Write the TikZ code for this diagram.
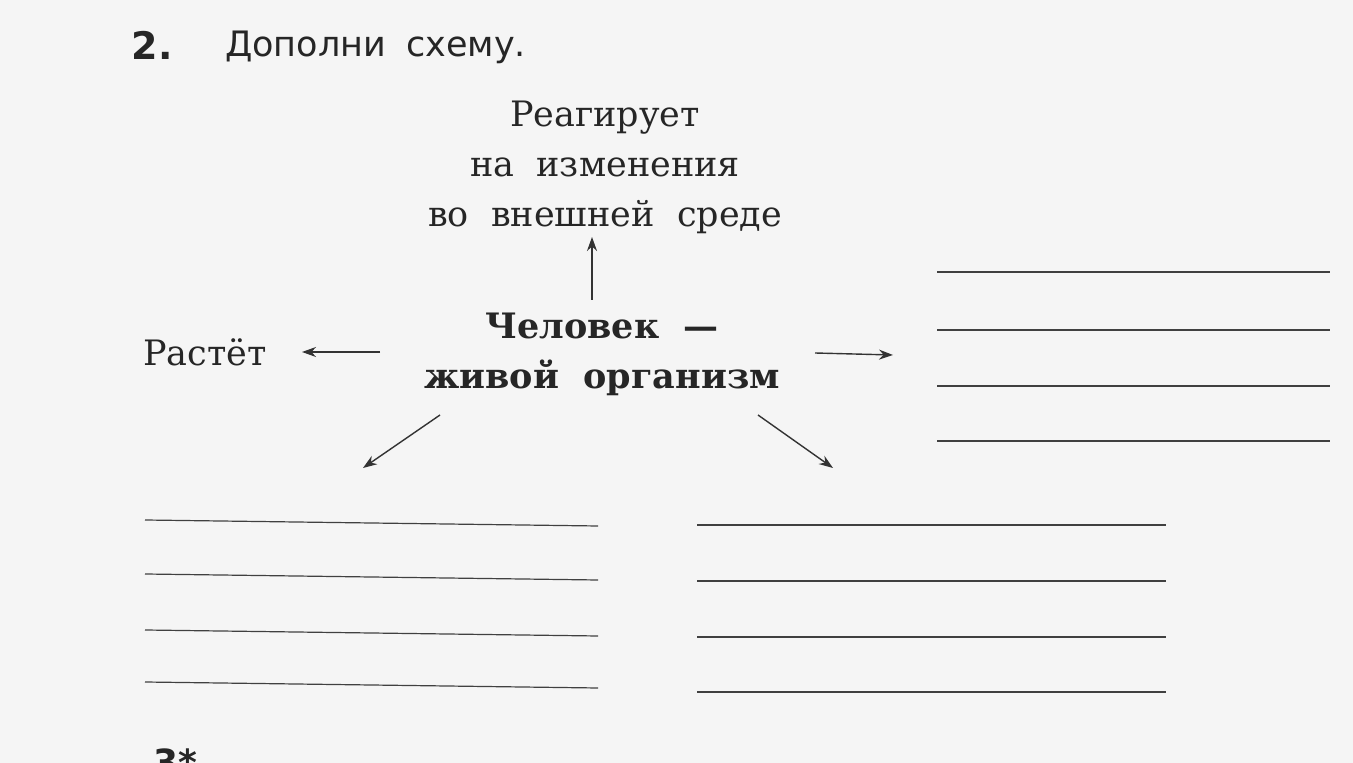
\documentclass[tikz,border=0pt]{standalone}
\usepackage{fontspec}
\usetikzlibrary{arrows.meta}
\setmainfont{DejaVu Serif}[WordSpace=2]
\newfontfamily\sansf{DejaVu Sans}[WordSpace=1.8]
\begin{document}
\begin{tikzpicture}[x=0.5pt,y=-0.5pt,
  txt/.style={font=\fontsize{17.5}{25}\selectfont,align=center,text=black!85,inner sep=1pt},
  arr/.style={-{Stealth[length=7pt,width=5pt]},line width=0.7pt,black!80},
  wline/.style={line width=0.6pt,black!75}]
\fill[gray!8] (0,0) rectangle (1353,763);
\clip (0,0) rectangle (1353,763);
\useasboundingbox (0,0) rectangle (1353,763);
\node[font=\sansf\bfseries\fontsize{19}{20}\selectfont,text=black!85] (num) at (152,45) {2.};
\node[font=\sansf\fontsize{17.5}{20}\selectfont,text=black!85,anchor=west] (title) at (218,47) {Дополни схему.};
\node[txt] (top) at (605,167) {Реагирует\\на изменения\\во внешней среде};
\node[txt,font=\bfseries\fontsize{17.5}{25}\selectfont] (c) at (602,354) {Человек —\\живой организм};
\node[txt] (grow) at (205,352) {Растёт};
\coordinate (u1) at (592,300); \coordinate (u2) at (592,237);
\coordinate (l1) at (380,352); \coordinate (l2) at (302,352);
\coordinate (r1) at (815,353); \coordinate (r2) at (893,355);
\coordinate (dl1) at (440,415); \coordinate (dl2) at (363,468);
\coordinate (dr1) at (758,415); \coordinate (dr2) at (833,468);
\draw[arr] (u1) -- (u2);
\draw[arr] (l1) -- (l2);
\draw[arr] (r1) -- (r2);
\draw[arr] (dl1) -- (dl2);
\draw[arr] (dr1) -- (dr2);
\foreach \y in {272,330,386,441} \draw[wline] (937,\y) -- (1330,\y);
\foreach \y in {520,574,630,682} \draw[wline] (145,\y) -- (598,\y+6);
\foreach \y in {525,581,637,692} \draw[wline] (697,\y) -- (1166,\y);
\node[font=\sansf\bfseries\fontsize{18}{20}\selectfont,text=black!85] (three) at (175,762) {3*};
\end{tikzpicture}
\end{document}
